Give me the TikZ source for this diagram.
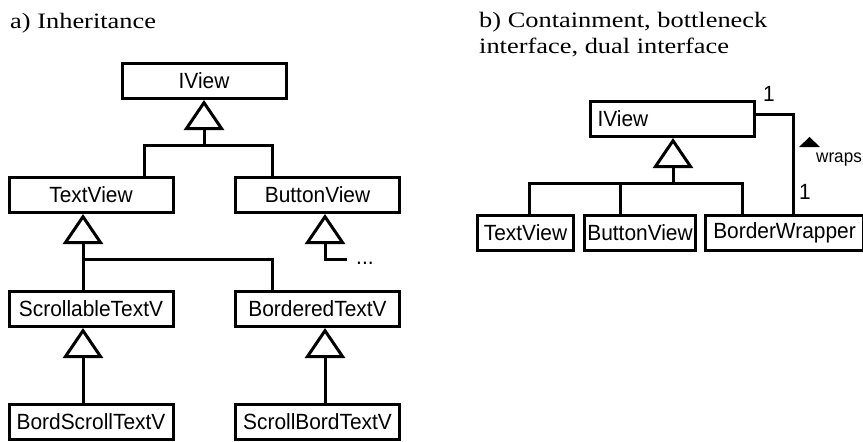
\documentclass[tikz,border=0pt]{standalone}
\usepackage{fontspec}
\newfontfamily\titlefont[FakeStretch=1.2]{Liberation Serif}
\newfontfamily\boxfont[FakeStretch=0.95]{Liberation Sans}
\usetikzlibrary{arrows.meta}
\tikzset{
         cls/.style=
          {
           draw,line width=3pt,minimum width=164pt,minimum height=35pt,
           inner sep=2pt,font=\boxfont\fontsize{22}{24}\selectfont
          },
         inh/.style=
          {
           line width=3pt,-{Triangle[open,width=40pt,length=30pt]}
          },
         rel/.style={line width=3pt},
         title/.style={anchor=base west,inner sep=0pt,font=\titlefont\fontsize{22}{26}\selectfont},
         lbl/.style={font=\boxfont\fontsize{22}{24}\selectfont}
        }
\begin{document}
\begin{tikzpicture}[x=1pt,y=-1pt]
\useasboundingbox (0,0) rectangle (863,442);

%titles
\node[title] (titleA) at (10,28){a) Inheritance};
\node[title] (titleB) at (479,27){b) Containment, bottleneck};
\node[title] (titleB2) at (479,53){interface, dual interface};

%part a: the classes
\node[cls] (iviewA) at (204,81){IView};
\node[cls] (textA) at (91,195){TextView};
\node[cls] (buttonA) at (317.5,195){ButtonView};
\node[cls] (scrollA) at (91,309){ScrollableTextV};
\node[cls] (borderedA) at (317.5,309){BorderedTextV};
\node[cls] (bordscrollA) at (91,422){BordScrollTextV};
\node[cls] (scrollbordA) at (317.5,422){ScrollBordTextV};
\node[lbl,anchor=base west,inner sep=0pt] (dotsA) at (356,264){...};

%part a: inheritance lines
\coordinate (busA) at (204,145);
\coordinate (busB) at (83,259);
\coordinate (moreA) at (347,259);
\draw[inh] (busA) -- (iviewA.south);
\draw[rel] (textA.north -| 144,0) |- (busA) -| (buttonA.north -| 272,0);
\draw[inh] (scrollA.north -| busB) -- (textA.south -| busB);
\draw[rel] (busB) -| (borderedA.north -| 272,0);
\draw[inh] (moreA) -| (buttonA.south -| 325,0);
\draw[inh] (bordscrollA.north -| busB) -- (scrollA.south -| busB);
\draw[inh] (scrollbordA.north -| 325,0) -- (borderedA.south -| 325,0);

%part b: the classes
\node[cls,text width=150pt,align=left] (iviewB) at (672.5,119){IView};
\node[cls,minimum width=96pt] (textB) at (525.5,233){TextView};
\node[cls,minimum width=111pt] (buttonB) at (640,233){ButtonView};
\node[cls,minimum width=158pt] (wrapperB) at (784.5,233){BorderWrapper};

%part b: lines
\coordinate (busC) at (673,183);
\draw[inh] (busC) -- (iviewB.south -| busC);
\draw[rel] (textB.north -| 529,0) |- (busC) -| (wrapperB.north -| 742,0);
\draw[rel] (buttonB.north -| 620,0) -- (busC -| 620,0);
\draw[rel] (iviewB.east |- 0,114) -| (wrapperB.north -| 793,0); %wraps

%part b: labels
\node[lbl] (oneTop) at (769,94){1};
\node[lbl] (oneBot) at (805,192){1};
\fill (799,147) -- (809.5,137) -- (820,147) -- cycle;
\node[anchor=base west,inner sep=0pt,font=\boxfont\fontsize{18}{22}\selectfont] (wraps) at (816,162){wraps};
\end{tikzpicture}
\end{document}
